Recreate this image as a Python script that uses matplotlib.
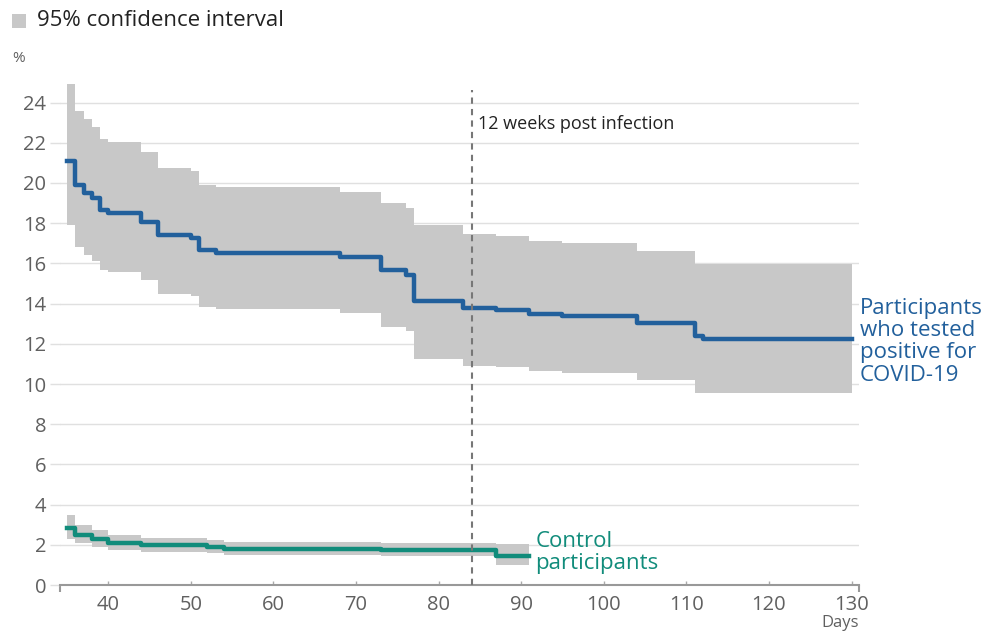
import matplotlib.pyplot as plt
from matplotlib.patches import Rectangle

plt.rcParams['font.family'] = ['Open Sans', 'DejaVu Sans']

# Participants who tested positive (step changes, %)
days_pos = [35, 36, 37, 38, 39, 40, 44, 46, 50, 51, 53, 68, 73, 76, 77, 83, 87, 91, 95, 104, 111, 112, 130]
pos_est = [21.1, 19.9, 19.5, 19.25, 18.65, 18.5, 18.05, 17.4, 17.25, 16.65, 16.5, 16.3, 15.65, 15.4,
           14.15, 13.8, 13.7, 13.5, 13.4, 13.05, 12.4, 12.25, 12.25]
pos_hi = [24.9, 23.6, 23.2, 22.8, 22.2, 22.05, 21.55, 20.75, 20.6, 19.9, 19.8, 19.55, 19.0, 18.75,
          17.9, 17.45, 17.35, 17.1, 17.0, 16.6, 15.95, 15.95, 15.95]
pos_lo = [17.9, 16.8, 16.4, 16.1, 15.65, 15.55, 15.15, 14.5, 14.4, 13.85, 13.75, 13.55, 12.85, 12.65,
          11.25, 10.9, 10.85, 10.65, 10.55, 10.2, 9.55, 9.55, 9.55]

# Control participants
days_ctl = [35, 36, 38, 40, 44, 52, 54, 73, 87, 91]
ctl_est = [2.85, 2.5, 2.3, 2.1, 2.0, 1.9, 1.8, 1.75, 1.45, 1.45]
ctl_hi = [3.5, 3.0, 2.75, 2.5, 2.35, 2.25, 2.15, 2.1, 2.05, 2.05]
ctl_lo = [2.3, 2.1, 1.9, 1.75, 1.65, 1.6, 1.5, 1.45, 1.0, 1.0]

x_ticks = [40, 50, 60, 70, 80, 90, 100, 110, 120, 130]
y_ticks = [0, 2, 4, 6, 8, 10, 12, 14, 16, 18, 20, 22, 24]
week12 = 84

blue = '#22609c'
green = '#118c7b'
ci_grey = '#c8c8c8'
tick_grey = '#606060'

fig = plt.figure(figsize=(9.82, 6.33), dpi=100)
ax = fig.add_axes([0.0611, 0.0758, 0.8136, 0.7939])

ax.fill_between(days_pos, pos_lo, pos_hi, step='post', color=ci_grey, lw=0, zorder=1)
ax.fill_between(days_ctl, ctl_lo, ctl_hi, step='post', color=ci_grey, lw=0, zorder=1)
ax.step(days_pos, pos_est, where='post', color=blue, lw=3.2, zorder=3)
ax.step(days_ctl, ctl_est, where='post', color=green, lw=3.2, zorder=3)

ax.axvline(week12, ymax=0.985, color='#777777', lw=1.5, ls=(0, (3, 2.5)), zorder=4)
ax.text(week12 + 0.8, 22.95, '12 weeks post infection', fontsize=13, color='#222222', va='center')

ax.text(131.0, 12.1, 'Participants\nwho tested\npositive for\nCOVID-19', fontsize=16, color=blue,
        va='center', ha='left', linespacing=1.08, clip_on=False)
ax.text(91.7, 1.6, 'Control\nparticipants', fontsize=16, color=green,
        va='center', ha='left', linespacing=1.05)

ax.set_xlim(34.15, 130.9)
ax.set_ylim(0, 25)
ax.set_yticks(y_ticks)
ax.set_xticks(x_ticks)
ax.set_xticks([34.15, 130.9], minor=True)
ax.grid(axis='y', color='#e0e0e0', lw=1, zorder=0)
ax.set_axisbelow(True)

for s in ['left', 'right', 'top']:
    ax.spines[s].set_visible(False)
ax.spines['bottom'].set_color('#999999')
ax.spines['bottom'].set_linewidth(1.5)

ax.tick_params(axis='y', length=7, color='#e0e0e0', width=1, pad=3, labelsize=14.5, labelcolor=tick_grey)
ax.tick_params(axis='x', which='major', direction='in', length=3, color='#aaaaaa', width=1,
               pad=7, labelsize=14.5, labelcolor=tick_grey)
ax.tick_params(axis='x', which='minor', direction='out', length=5, color='#999999', width=1.5)

fig.text(12 / 982, 1 - 58 / 633, '%', fontsize=11, color=tick_grey, va='center')
fig.text(840 / 982, 1 - 623 / 633, 'Days', fontsize=12, color=tick_grey, va='center', ha='center')

fig.patches.append(Rectangle((12 / 982, 1 - 28 / 633), 14 / 982, 14 / 633, transform=fig.transFigure,
                             color=ci_grey, lw=0))
fig.text(37 / 982, 1 - 21 / 633, '95% confidence interval', fontsize=16, color='#222222', va='center')

fig.savefig('out.png', dpi=100)
